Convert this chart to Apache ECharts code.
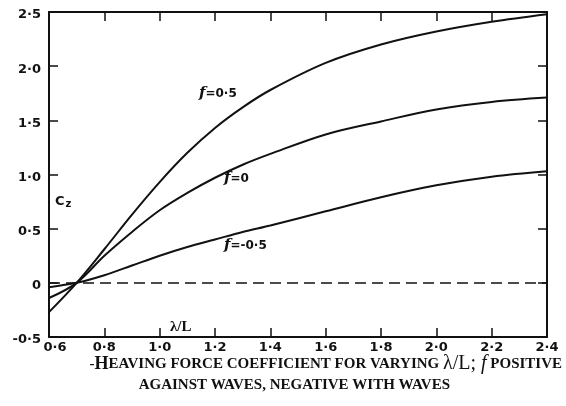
<!DOCTYPE html>
<html>
<head>
<meta charset="utf-8">
<script src="https://cdn.jsdelivr.net/npm/echarts@6/dist/echarts.min.js"></script>
<style>
  html, body { margin: 0; padding: 0; background: #fff; }
  #chart { width: 566px; height: 406px; }
</style>
</head>
<body>
<div id="chart"></div>
<script>
var myChart = echarts.init(document.getElementById('chart'));

// lambda / L
var ratios = [0.6, 0.7, 0.8, 0.9, 1.0, 1.1, 1.2, 1.3, 1.4, 1.6, 1.8, 2.0, 2.2, 2.4];
// Cz for f = 0.5, 0, -0.5
var czPlus = [-0.27, 0.0, 0.31, 0.63, 0.93, 1.2, 1.43, 1.62, 1.78, 2.03, 2.2, 2.32, 2.41, 2.48];
var czZero = [-0.14, 0.0, 0.25, 0.47, 0.67, 0.83, 0.97, 1.09, 1.19, 1.37, 1.49, 1.6, 1.67, 1.71];
var czMinus = [-0.04, 0.0, 0.07, 0.16, 0.25, 0.33, 0.4, 0.47, 0.53, 0.66, 0.79, 0.9, 0.98, 1.03];

var INK = '#111';
var LABEL_FONT = 'DejaVu Sans';
var SERIF = 'Liberation Serif';

function dotted(v) {
  return v.toFixed(1).replace('.', '\u00b7');
}

function pairs(ys) {
  return ratios.map(function (x, i) { return [x, ys[i]]; });
}

function curve(name, ys) {
  return {
    name: name,
    type: 'line',
    data: pairs(ys),
    smooth: 0.35,
    showSymbol: false,
    lineStyle: { color: INK, width: 2 }
  };
}

var series = [curve('f=0.5', czPlus), curve('f=0', czZero), curve('f=-0.5', czMinus)];
series[0].markLine = {
  silent: true,
  symbol: 'none',
  label: { show: false },
  lineStyle: { color: INK, width: 1.5, type: [11, 6] },
  data: [{ yAxis: 0 }]
};

var tick = { show: true, inside: true, length: 9, lineStyle: { color: INK, width: 1.5 } };
var line = { show: true, onZero: false, lineStyle: { color: INK, width: 2 } };

function fLabel(left, top, value) {
  return {
    type: 'text', left: left, top: top,
    style: {
      text: '{f|f}{v|=' + value + '}',
      rich: {
        f: { fontFamily: 'DejaVu Serif', fontStyle: 'italic', fontWeight: 'bold', fontSize: 15, fill: INK },
        v: { fontFamily: LABEL_FONT, fontWeight: 'bold', fontSize: 12, fill: INK }
      }
    }
  };
}

var option = {
  animation: false,
  backgroundColor: '#fff',
  grid: { left: 49, right: 19, top: 12, bottom: 69 },
  xAxis: [{
    type: 'value', min: 0.6, max: 2.4, interval: 0.2,
    axisLine: line, axisTick: tick, splitLine: { show: false },
    axisLabel: {
      margin: 4, color: INK, fontFamily: LABEL_FONT, fontWeight: 'bold', fontSize: 13,
      formatter: function (v) {
        if (Math.abs(v - 0.6) < 1e-6) return '{first|0\u00b76}';
        return dotted(v);
      },
      rich: { first: { padding: [0, 0, 0, 12], fontFamily: LABEL_FONT, fontWeight: 'bold', fontSize: 13, color: INK } }
    }
  }, {
    type: 'value', position: 'top', min: 0.6, max: 2.4, interval: 0.2,
    axisLine: line, axisTick: tick, axisLabel: { show: false }, splitLine: { show: false }
  }],
  yAxis: [{
    type: 'value', min: -0.5, max: 2.5, interval: 0.5,
    axisLine: line, axisTick: tick, splitLine: { show: false },
    axisLabel: {
      margin: 8, verticalAlign: 'top', lineHeight: 6,
      color: INK, fontFamily: LABEL_FONT, fontWeight: 'bold', fontSize: 13,
      formatter: function (v) { return Math.abs(v) < 1e-6 ? '0' : dotted(v); }
    }
  }, {
    type: 'value', position: 'right', min: -0.5, max: 2.5, interval: 0.5,
    axisLine: line, axisTick: tick, axisLabel: { show: false }, splitLine: { show: false }
  }],
  series: series,
  graphic: [
    fLabel(199, 86, '0\u00b75'),
    fLabel(224, 171, '0'),
    fLabel(224, 238, '-0\u00b75'),
    {
      type: 'text', left: 55, top: 195,
      style: {
        text: '{c|C}{z|z}',
        rich: {
          c: { fontFamily: LABEL_FONT, fontWeight: 'bold', fontSize: 13, fill: INK },
          z: { fontFamily: LABEL_FONT, fontWeight: 'bold', fontSize: 10, fill: INK, padding: [6, 0, 0, 1] }
        }
      }
    },
    {
      type: 'text', left: 170, top: 320,
      style: { text: '\u03bb/L', fontFamily: SERIF, fontWeight: 'bold', fontSize: 15, fill: INK }
    },
    {
      type: 'text', right: 4, top: 354,
      style: {
        text: '{sc|-}{cap|H}{sc|EAVING FORCE COEFFICIENT FOR VARYING }{lam|\u03bb/L; }{it|f}{sc| POSITIVE}',
        rich: {
          sc: { fontFamily: SERIF, fontWeight: 'bold', fontSize: 15, fill: INK },
          cap: { fontFamily: SERIF, fontWeight: 'bold', fontSize: 18, fill: INK },
          lam: { fontFamily: SERIF, fontSize: 20, fill: INK },
          it: { fontFamily: SERIF, fontStyle: 'italic', fontSize: 20, fill: INK }
        }
      }
    },
    {
      type: 'text', right: 116, top: 378,
      style: { text: 'AGAINST WAVES, NEGATIVE WITH WAVES', fontFamily: SERIF, fontWeight: 'bold', fontSize: 15, fill: INK }
    }
  ]
};

myChart.setOption(option);
</script>
</body>
</html>
